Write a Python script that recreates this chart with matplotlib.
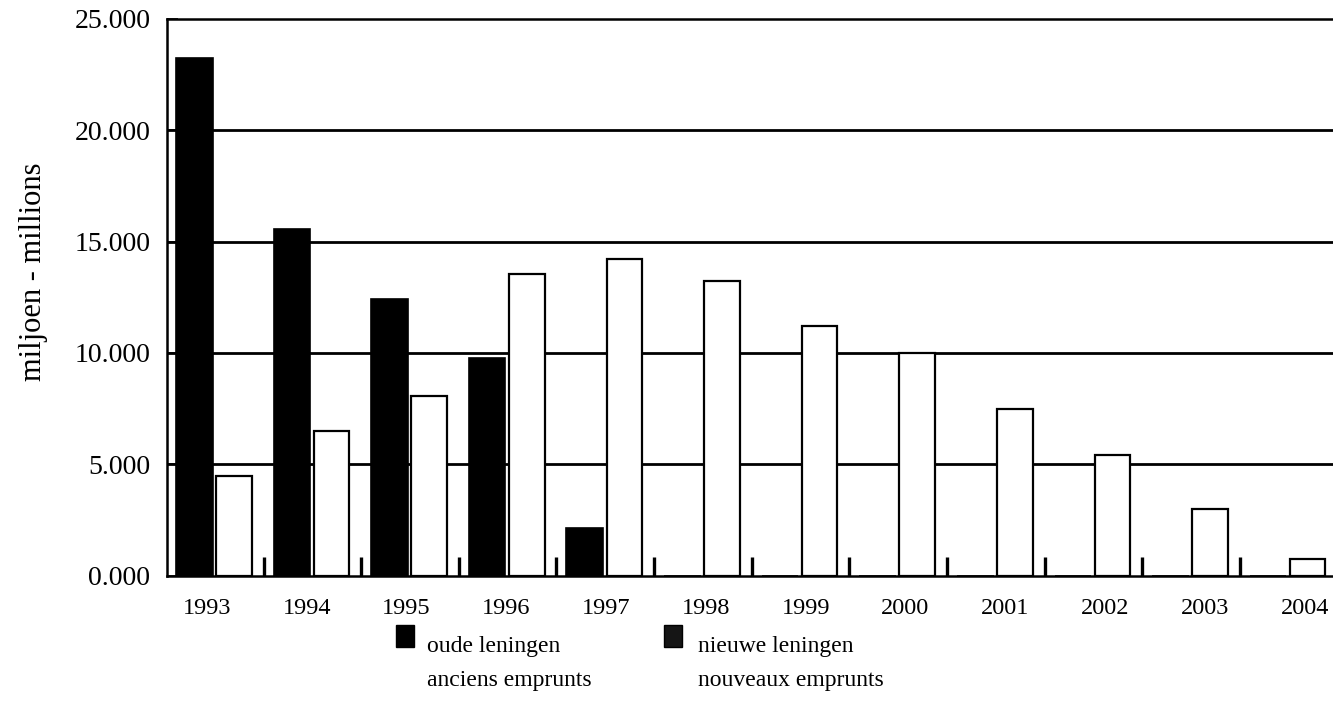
import numpy as np
import matplotlib
matplotlib.use("Agg")
import matplotlib.pyplot as plt
from matplotlib.patches import Rectangle

# data (miljoen - millions)
years = ["1993", "1994", "1995", "1996", "1997", "1998", "1999", "2000",
         "2001", "2002", "2003", "2004"]
oude = [23.24, 15.55, 12.41, 9.77, 2.14, 0, 0, 0, 0, 0, 0, 0]
nieuwe = [4.47, 6.49, 8.06, 13.54, 14.22, 13.23, 11.22, 9.98, 7.47, 5.43, 2.99, 0.75]
yticks = [0, 5, 10, 15, 20, 25]
legend_lines = [("oude leningen", "anciens emprunts"),
                ("nieuwe leningen", "nouveaux emprunts")]

plt.rcParams['font.family'] = ['Liberation Serif', 'DejaVu Serif']

W, H = 1333, 712
fig = plt.figure(figsize=(W / 100, H / 100), dpi=100)
ax = fig.add_axes([167 / W, 1 - 575.6 / H, 1 - 167 / W, (575.6 - 19) / H])

x = np.arange(len(years))
w = 0.375
ax.bar(x - 0.21, oude, width=w, color='black', edgecolor='black', linewidth=1.2, zorder=3)
ax.bar(x + 0.195, nieuwe, width=w - 0.01, color='white', edgecolor='black', linewidth=1.6, zorder=3)

for v in yticks[1:-1]:
    ax.axhline(v, color='black', linewidth=2.0, zorder=1)

ax.set_ylim(0, 25)
ax.set_xlim(-0.49, 11.455)
ax.set_yticks(yticks)
ax.set_yticklabels([f"{v:.3f}" for v in yticks])
# year labels drift slightly from the bar groups in the original
ax.set_xticks(x * 1.0225 - 0.082)
ax.set_xticklabels(years)
ax.set_xticks(x[:-1] + 0.5, minor=True)

ax.tick_params(axis='y', direction='in', length=8, width=1.2, pad=12, labelsize=20)
ax.tick_params(axis='x', which='major', length=0, pad=16, labelsize=17.5)
ax.tick_params(axis='x', which='minor', direction='in', length=14, width=2.4)

ax.spines['right'].set_visible(False)
for s in ['left', 'top', 'bottom']:
    ax.spines[s].set_linewidth(1.8)

fig.text(34 / W, 1 - 272 / H, "miljoen - millions", rotation=90,
         ha='center', va='center', fontsize=22)

# legend (square aligned with the first text line)
for (l1, l2), sx, tx, fc in zip(legend_lines, [396, 664], [427, 698], ['black', '#151515']):
    fig.add_artist(Rectangle((sx / W, 1 - 647 / H), 18 / W, 22 / H,
                             transform=fig.transFigure, facecolor=fc, edgecolor='black'))
    fig.text(tx / W, 1 - 652 / H, l1, fontsize=17, va='baseline', ha='left')
    fig.text(tx / W, 1 - 686 / H, l2, fontsize=17, va='baseline', ha='left')

fig.savefig("out.png", dpi=100)
